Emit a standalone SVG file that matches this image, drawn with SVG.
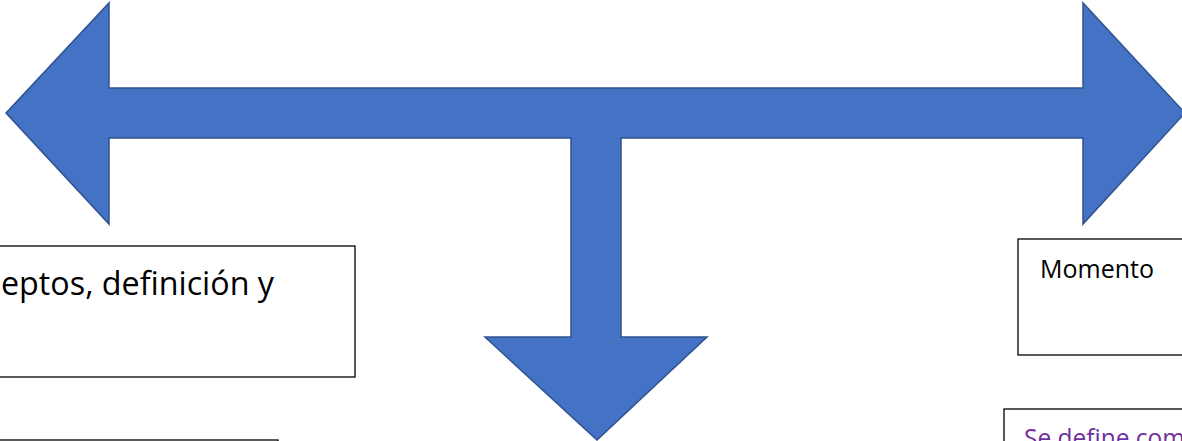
<svg xmlns="http://www.w3.org/2000/svg" width="1182" height="441" viewBox="0 0 1182 441">
<style>
.box{fill:#ffffff;stroke:#000000;stroke-width:1.3}
.t{font-family:"Open Sans","Noto Sans","Liberation Sans",sans-serif;fill:#000000}
.arrow{fill:#4472C4;stroke:#2F528F;stroke-width:1.5;stroke-linejoin:miter}
</style>
<rect width="1182" height="441" fill="#ffffff"/>
<g id="connectors">
<polygon class="arrow" points="6,113 109,3 109,88 1083,88 1083,3 1185,113 1083,224 1083,138 621,138 621,337 707,337 597,440 485,337 571,337 571,138 109,138 109,224"/>
</g>
<g id="node-conceptos">
<rect class="box" x="-10" y="246" width="365" height="131"/>
<text class="t" x="1" y="295" font-size="32.5" textLength="273" lengthAdjust="spacingAndGlyphs">eptos, definición y</text>
</g>
<g id="node-bottom-left">
<rect class="box" x="-10" y="440" width="288" height="60"/>
</g>
<g id="node-momento">
<rect class="box" x="1018" y="239" width="200" height="116"/>
<text class="t" x="1040" y="278" font-size="25" textLength="114" lengthAdjust="spacingAndGlyphs">Momento</text>
</g>
<g id="node-se-define">
<rect class="box" x="1004" y="409" width="200" height="80"/>
<text class="t" x="1024" y="447" font-size="25" fill="#7030A0" style="fill:#7030A0" textLength="161" lengthAdjust="spacingAndGlyphs">Se define com</text>
</g>
</svg>
